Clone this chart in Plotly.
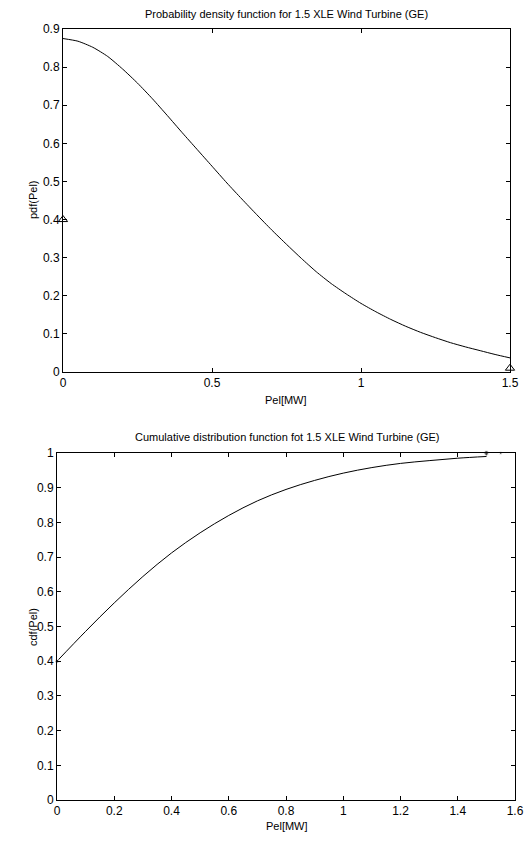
import plotly.graph_objects as go

# ---- data ----
pel_pdf = [0.0, 0.05, 0.1, 0.15, 0.2, 0.25, 0.3, 0.35, 0.4, 0.45, 0.5, 0.55, 0.6, 0.65,
           0.7, 0.75, 0.8, 0.85, 0.9, 0.95, 1.0, 1.05, 1.1, 1.15, 1.2, 1.25, 1.3, 1.35,
           1.4, 1.45, 1.5]
pdf_vals = [0.875, 0.868, 0.852, 0.828, 0.795, 0.758, 0.717, 0.673, 0.628, 0.584,
            0.540, 0.496, 0.454, 0.413, 0.373, 0.335, 0.298, 0.263, 0.232, 0.205,
            0.180, 0.158, 0.138, 0.120, 0.104, 0.090, 0.077, 0.066, 0.056, 0.046, 0.037]
pdf_mark_x = [0.0, 1.5]
pdf_mark_y = [0.4, 0.01]

pel_cdf = [0.0, 0.1, 0.2, 0.3, 0.4, 0.5, 0.6, 0.7, 0.8, 0.9, 1.0, 1.1, 1.2, 1.3, 1.4, 1.5]
cdf_vals = [0.400, 0.486, 0.568, 0.644, 0.712, 0.770, 0.820, 0.862, 0.895, 0.921,
            0.942, 0.958, 0.970, 0.978, 0.985, 0.990]
cdf_mark_x = [0.0, 1.5, 1.55]
cdf_mark_y = [0.4, 1.0, 1.0]

top_xticks = [0, 0.5, 1, 1.5]
top_xticklabels = ["0", "0.5", "1", "1.5"]
top_yticks = [0, 0.1, 0.2, 0.3, 0.4, 0.5, 0.6, 0.7, 0.8, 0.9]
top_yticklabels = ["0", "0.1", "0.2", "0.3", "0.4", "0.5", "0.6", "0.7", "0.8", "0.9"]
bot_xticks = [0, 0.2, 0.4, 0.6, 0.8, 1.0, 1.2, 1.4, 1.6]
bot_xticklabels = ["0", "0.2", "0.4", "0.6", "0.8", "1", "1.2", "1.4", "1.6"]
bot_yticks = [0, 0.1, 0.2, 0.3, 0.4, 0.5, 0.6, 0.7, 0.8, 0.9, 1.0]
bot_yticklabels = ["0", "0.1", "0.2", "0.3", "0.4", "0.5", "0.6", "0.7", "0.8", "0.9", "1"]

W, H = 528, 846
FONT = "Liberation Sans, Arial, sans-serif"

def px_x(p):
    return p / W

def px_y(p):
    return 1 - p / H

fig = go.Figure()
fig.add_trace(go.Scatter(x=pel_pdf, y=pdf_vals, mode="lines",
                         line=dict(color="black", width=1, shape="spline", smoothing=0.6),
                         xaxis="x", yaxis="y", showlegend=False, hoverinfo="skip"))
fig.add_trace(go.Scatter(x=pdf_mark_x, y=pdf_mark_y, mode="markers",
                         marker=dict(symbol="triangle-up-open", size=8, color="black",
                                     line=dict(width=1)),
                         xaxis="x", yaxis="y", showlegend=False, cliponaxis=False))
fig.add_trace(go.Scatter(x=pel_cdf, y=cdf_vals, mode="lines",
                         line=dict(color="black", width=1, shape="spline", smoothing=1.0),
                         xaxis="x2", yaxis="y2", showlegend=False, hoverinfo="skip"))
fig.add_trace(go.Scatter(x=[pel_cdf[-1], cdf_mark_x[1]], y=[cdf_vals[-1], cdf_mark_y[1]],
                         mode="lines", line=dict(color="#555", width=1),
                         xaxis="x2", yaxis="y2", showlegend=False, hoverinfo="skip"))
fig.add_trace(go.Scatter(x=cdf_mark_x, y=cdf_mark_y, mode="markers",
                         marker=dict(symbol="circle", size=[4, 5, 3], color="#333"),
                         xaxis="x2", yaxis="y2", showlegend=False, cliponaxis=False))

axis_common = dict(showline=True, linecolor="black", linewidth=1, mirror="ticks",
                   ticks="inside", ticklen=4, tickcolor="black", tickwidth=1,
                   showgrid=False, zeroline=False,
                   tickfont=dict(family=FONT, size=12, color="black"),
                   automargin=False, tickmode="array")

fig.update_layout(
    width=W, height=H,
    margin=dict(l=0, r=0, t=0, b=0),
    paper_bgcolor="white", plot_bgcolor="white",
    xaxis=dict(axis_common, domain=[px_x(63), px_x(510)], range=[0, 1.5],
               tickvals=top_xticks, ticktext=top_xticklabels, anchor="y"),
    yaxis=dict(axis_common, domain=[px_y(372), px_y(29)], range=[0, 0.9],
               tickvals=top_yticks, ticktext=top_yticklabels, anchor="x"),
    xaxis2=dict(axis_common, domain=[px_x(57), px_x(515)], range=[0, 1.6],
                tickvals=bot_xticks, ticktext=bot_xticklabels, anchor="y2"),
    yaxis2=dict(axis_common, domain=[px_y(800), px_y(453)], range=[0, 1.0],
                tickvals=bot_yticks, ticktext=bot_yticklabels, anchor="x2"),
)

def ann(text, x, y, angle=0):
    fig.add_annotation(text=text, x=px_x(x), y=px_y(y), xref="paper", yref="paper",
                       showarrow=False, textangle=angle,
                       font=dict(family=FONT, size=11, color="black"),
                       xanchor="center", yanchor="middle")

ann("Probability density function for 1.5 XLE Wind Turbine (GE)", 286, 14)
ann("Pel[MW]", 286, 400)
ann("pdf(Pel)", 33, 200, -90)
ann("Cumulative distribution function fot 1.5 XLE Wind Turbine (GE)", 287, 437)
ann("Pel[MW]", 287, 826)
ann("cdf(Pel)", 33, 627, -90)

fig.write_html("out.html")
